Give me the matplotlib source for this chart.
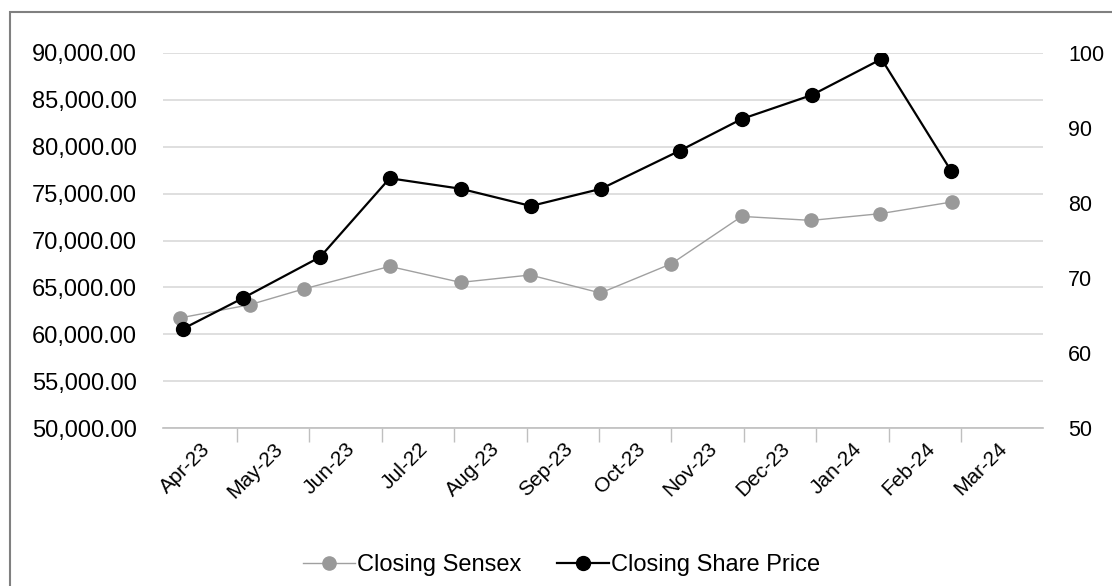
"""Closing Sensex vs closing share price, monthly, on twin y axes."""

import matplotlib

matplotlib.use("Agg")
import matplotlib.pyplot as plt
from matplotlib.lines import Line2D
from matplotlib.patches import Rectangle
from matplotlib.ticker import FuncFormatter

plt.rcParams["font.family"] = ["Liberation Sans", "DejaVu Sans"]

# Category labels as printed on the axis (the "Jul-22" is in the source).
months = ["Apr-23", "May-23", "Jun-23", "Jul-22", "Aug-23", "Sep-23",
          "Oct-23", "Nov-23", "Dec-23", "Jan-24", "Feb-24", "Mar-24"]

# Closing Sensex (left axis) and its position along the month axis.
sensex_pos = [-0.29, 0.68, 1.42, 2.61, 3.59, 4.55, 5.52, 6.50, 7.47, 8.43, 9.38, 10.37]
sensex = [61733, 63152, 64827, 67237, 65531, 66320,
          64400, 67525, 72571, 72144, 72859, 74107]

# Closing share price (right axis) and its position along the month axis.
price_pos = [-0.25, 0.58, 1.65, 2.61, 3.59, 4.56, 5.53, 6.62, 7.47, 8.44, 9.40, 10.36]
price = [63.2, 67.3, 72.8, 83.3, 81.9, 79.6, 81.9, 87.0, 91.2, 94.4, 99.2, 84.3]

left_ticks = [50000, 55000, 60000, 65000, 70000, 75000, 80000, 85000, 90000]
right_ticks = [50, 60, 70, 80, 90, 100]

GRAY = "#a0a0a0"
GRID = "#d9d9d9"
FS = 17

fig = plt.figure(figsize=(11.12, 5.86), dpi=100)
ax = fig.add_axes([163 / 1112, 1 - 428 / 586, 880 / 1112, 375 / 586])
ax2 = ax.twinx()

ax.plot(sensex_pos, sensex, color=GRAY, lw=1.0, marker="o", ms=9.5,
        markerfacecolor="#999999", markeredgecolor="#999999", zorder=3)
ax2.plot(price_pos, price, color="black", lw=1.6, marker="o", ms=10,
         markerfacecolor="black", markeredgecolor="black", zorder=3)

ax.set_xlim(-0.52, 11.63)
ax.set_ylim(left_ticks[0], left_ticks[-1])
ax2.set_ylim(right_ticks[0], right_ticks[-1])

ax.set_yticks(left_ticks)
ax.yaxis.set_major_formatter(FuncFormatter(lambda v, _: f"{v:,.2f}"))
ax2.set_yticks(right_ticks)

ax.grid(True, axis="y", color=GRID, lw=1.2)
ax.set_axisbelow(True)

# month labels at category centres, tick marks at category boundaries
ax.set_xticks(range(len(months)))
ax.set_xticklabels(months, rotation=45, ha="right", rotation_mode="anchor",
                   fontsize=15)
ax.set_xticks([i + 0.5 for i in range(len(months) - 1)], minor=True)
ax.tick_params(axis="x", which="major", length=0, pad=8)
ax.tick_params(axis="x", which="minor", length=10, width=1, color="#bfbfbf")

ax.tick_params(axis="y", length=0, pad=19, labelsize=FS)
ax2.tick_params(axis="y", length=0, pad=18, labelsize=FS - 1.5)

for a in (ax, ax2):
    for side in ("top", "left", "right"):
        a.spines[side].set_visible(False)
ax2.spines["bottom"].set_visible(False)
ax.spines["bottom"].set_color("#bfbfbf")
ax.spines["bottom"].set_linewidth(1.2)

handles = [
    Line2D([], [], color=GRAY, lw=1.0, marker="o", ms=9.5,
           markerfacecolor="#999999", markeredgecolor="#999999"),
    Line2D([], [], color="black", lw=1.6, marker="o", ms=10,
           markerfacecolor="black", markeredgecolor="black"),
]
fig.legend(handles, ["Closing Sensex", "Closing Share Price"], loc="center",
           bbox_to_anchor=(0.505, 1 - 565 / 586), ncol=2, frameon=False,
           fontsize=FS, handlelength=2.2, handletextpad=0.1,
           columnspacing=1.5, numpoints=1)

# chart-area border (clipped at right and bottom in the source)
fig.add_artist(Rectangle((10 / 1112, -0.1), 1.2, 1.1 - 12 / 586,
                         transform=fig.transFigure, fill=False,
                         edgecolor="#808080", lw=1.5))

fig.savefig("out.png", dpi=100)
